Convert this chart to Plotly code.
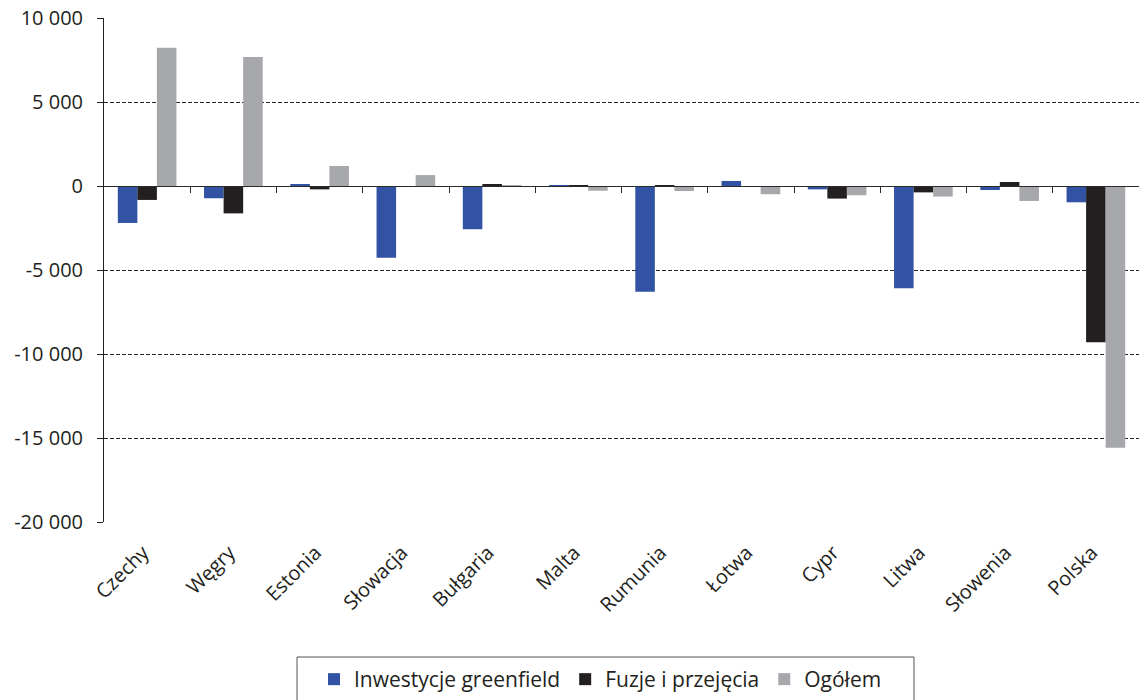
import plotly.graph_objects as go

# Kraje i salda inwestycji (mln EUR)
kraje = ["Czechy", "Węgry", "Estonia", "Słowacja", "Bułgaria", "Malta",
         "Rumunia", "Łotwa", "Cypr", "Litwa", "Słowenia", "Polska"]
greenfield = [-2200, -730, 60, -4270, -2580, 30, -6290, 300, -200, -6090, -240, -970]
fuzje = [-830, -1630, -200, 0, 100, 40, 20, 0, -750, -380, 240, -9300]
ogolem = [8230, 7680, 1190, 650, 30, -280, -300, -490, -550, -630, -890, -15580]

y_ticks = [-20000, -15000, -10000, -5000, 0, 5000, 10000]
y_min, y_max = -20000, 10000


def fmt(v):
    s = f"{abs(v):,}".replace(",", " ")
    return ("-" if v < 0 else "") + s


FONT = "'Open Sans', Lato, sans-serif"
TXT = "#231f20"

# plot area in pixels (used to place the legend frame in paper units)
W, H = 1139, 700
ML, MR, MT, MB = 104, 0, 18, 178
PW, PH = W - ML - MR, H - MT - MB


def px_x(px):
    return (px - ML) / PW


def px_y(py):
    return (H - MB - py) / PH


fig = go.Figure()
fig.add_trace(go.Bar(x=kraje, y=greenfield, name="Inwestycje greenfield",
                     marker=dict(color="#3253a4", line=dict(width=0))))
fig.add_trace(go.Bar(x=kraje, y=fuzje, name="Fuzje i przejęcia",
                     marker=dict(color="#231f20", line=dict(width=0))))
fig.add_trace(go.Bar(x=kraje, y=ogolem, name="Ogółem",
                     marker=dict(color="#a7a8ab", line=dict(width=0))))

# pomocnicza oś na poziomie zera z kreskami między kategoriami
n = len(kraje)
fig.add_trace(go.Scatter(x=[-0.5, n - 0.5], y=[0, 0], xaxis="x2", mode="lines",
                         line=dict(width=0), showlegend=False, hoverinfo="skip"))

zero_pos = (0 - y_min) / (y_max - y_min)

fig.update_layout(
    width=W, height=H,
    margin=dict(l=ML, r=MR, t=MT, b=MB),
    paper_bgcolor="white", plot_bgcolor="white",
    font=dict(family=FONT, size=20, color=TXT),
    barmode="group", bargap=0.32, bargroupgap=0,
    xaxis=dict(
        type="category", range=[-0.5, n - 0.5],
        showline=False, showgrid=False, zeroline=False,
        ticks="", tickangle=-45, ticklabelstandoff=14, ticklabelshift=-4,
        tickfont=dict(family=FONT, size=20, color=TXT),
    ),
    xaxis2=dict(
        overlaying="x", anchor="free", position=zero_pos, side="bottom",
        range=[-0.5, n - 0.5], showgrid=False, zeroline=False,
        showline=True, linecolor="#2a2a2a", linewidth=1,
        tickvals=[i + 0.5 for i in range(n - 1)], ticks="outside",
        ticklen=6, tickcolor="#2a2a2a", tickwidth=1, showticklabels=False,
    ),
    yaxis=dict(
        range=[y_min, y_max], tickvals=y_ticks, ticktext=[fmt(v) for v in y_ticks],
        showline=True, linecolor="#231f20", linewidth=1,
        ticks="outside", ticklen=6, tickcolor="#231f20",
        showgrid=True, gridcolor="#222222", gridwidth=1.2, griddash="4px,2px",
        zeroline=False, ticklabelstandoff=10,
        tickfont=dict(family=FONT, size=20, color=TXT),
    ),
    legend=dict(
        orientation="h", x=px_x(314), xanchor="left",
        y=px_y(H), yanchor="bottom",
        borderwidth=0, bgcolor="rgba(0,0,0,0)",
        font=dict(family=FONT, size=21, color=TXT),
        itemwidth=30, traceorder="normal",
    ),
    shapes=[dict(
        type="rect", xref="paper", yref="paper",
        x0=px_x(297), x1=px_x(914), y0=px_y(657), y1=px_y(715),
        line=dict(color="#555555", width=1), fillcolor="rgba(0,0,0,0)",
        layer="below",
    )],
    showlegend=True,
)

fig.write_html("out.html")
